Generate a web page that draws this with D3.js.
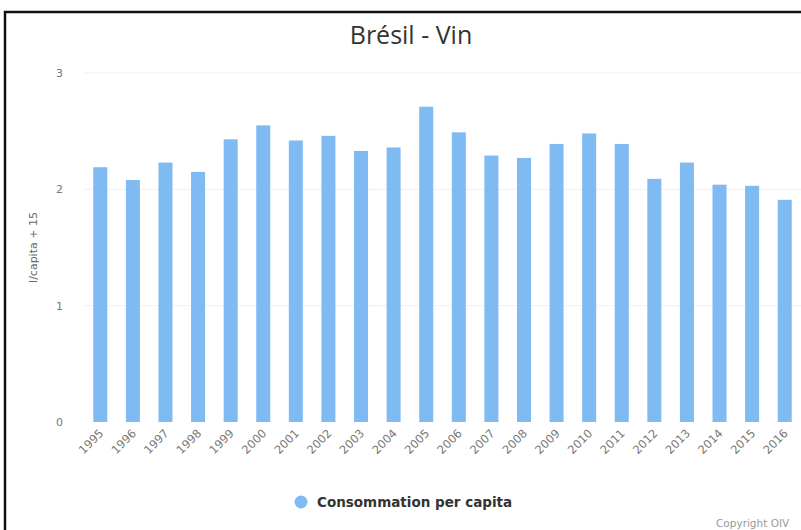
<!DOCTYPE html>
<html>
<head>
<meta charset="utf-8">
<script src="https://cdn.jsdelivr.net/npm/d3@7"></script>
<style>
  body { margin: 0; background: #fff; }
  svg { display: block; font-family: "DejaVu Sans", sans-serif; }
</style>
</head>
<body>
<svg id="vis" width="801" height="530"></svg>
<script>
// Brésil - Vin : consommation per capita
const years = ["1995", "1996", "1997", "1998", "1999", "2000", "2001", "2002", "2003", "2004", "2005",
    "2006", "2007", "2008", "2009", "2010", "2011", "2012", "2013", "2014", "2015", "2016"];
const consumption = [2.19, 2.08, 2.23, 2.15, 2.43, 2.55, 2.42, 2.46, 2.33, 2.36, 2.71,
    2.49, 2.29, 2.27, 2.39, 2.48, 2.39, 2.09, 2.23, 2.04, 2.03, 1.91];
const yTicks = [0, 1, 2, 3];

const svg = d3.select('#vis');
const WIDTH = 801, HEIGHT = 530;
const barColor = "#7fbaf2";

// frame
svg.append("rect")
    .attr("x", 5).attr("y", 12)
    .attr("width", WIDTH + 10).attr("height", HEIGHT + 10)
    .attr("fill", "#fff")
    .attr("stroke", "#111")
    .attr("stroke-width", 2.5);

const x = d3.scaleBand()
    .domain(years)
    .range([84, 801])
    .paddingInner(0.57)
    .paddingOuter(0.285);

const y = d3.scaleLinear()
    .domain([0, 3])
    .range([422, 73]);

// grid
svg.selectAll(".grid")
    .data(yTicks.filter(d => d > 0))
    .enter().append("line")
    .attr("class", "grid")
    .attr("x1", 84).attr("x2", 801)
    .attr("y1", d => y(d)).attr("y2", d => y(d))
    .attr("stroke", "#f0f0f0")
    .attr("stroke-width", 1);

// y labels
svg.selectAll(".ylab")
    .data(yTicks)
    .enter().append("text")
    .attr("class", "ylab")
    .attr("x", 63)
    .attr("y", d => y(d) + 4)
    .attr("text-anchor", "end")
    .attr("fill", "#777")
    .attr("font-size", 11)
    .text(d => d);

svg.append("text")
    .attr("transform", "translate(37," + y(1.5) + ") rotate(-90)")
    .attr("text-anchor", "middle")
    .attr("fill", "#666")
    .attr("font-size", 11)
    .text("l/capita + 15");

// bars
svg.selectAll(".bar")
    .data(consumption)
    .enter().append("rect")
    .attr("class", "bar")
    .attr("x", (d, i) => x(years[i]))
    .attr("width", x.bandwidth())
    .attr("y", d => y(d))
    .attr("height", d => y(0) - y(d))
    .attr("fill", barColor);

// x labels
svg.selectAll(".xlab")
    .data(years)
    .enter().append("text")
    .attr("class", "xlab")
    .attr("transform", d => "translate(" + (x(d) + x.bandwidth() / 2 + 4) + ",434) rotate(-45)")
    .attr("text-anchor", "end")
    .attr("fill", "#777")
    .attr("font-size", 11.5)
    .text(d => d);

// title
svg.append("text")
    .attr("x", 411).attr("y", 44)
    .attr("text-anchor", "middle")
    .attr("fill", "#333")
    .attr("font-family", "'Open Sans', sans-serif")
    .attr("font-size", 25)
    .text("Brésil - Vin");

// legend
svg.append("circle")
    .attr("cx", 301).attr("cy", 502).attr("r", 6.5)
    .attr("fill", barColor);
svg.append("text")
    .attr("x", 317).attr("y", 507)
    .attr("fill", "#333")
    .attr("font-size", 13.5)
    .attr("font-weight", "bold")
    .text("Consommation per capita");

svg.append("text")
    .attr("x", 716).attr("y", 527)
    .attr("fill", "#999")
    .attr("font-size", 10.5)
    .text("Copyright OIV");
</script>
</body>
</html>
